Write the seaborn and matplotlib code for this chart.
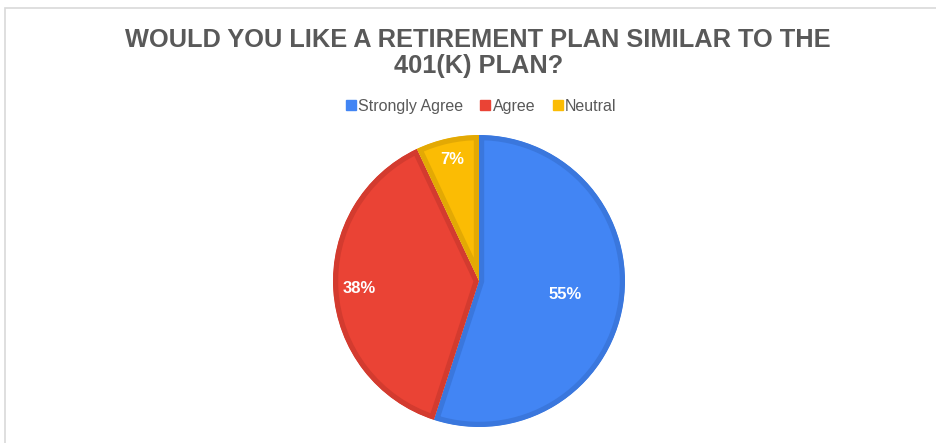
import numpy as np
import seaborn as sns
import matplotlib
matplotlib.use('Agg')
import matplotlib.pyplot as plt
from matplotlib.patches import Rectangle
from matplotlib.lines import Line2D

sns.set_theme(style='white')
plt.rcParams['font.family'] = ['Liberation Sans', 'DejaVu Sans']

categories = ['Strongly Agree', 'Agree', 'Neutral']
shares = [55, 38, 7]
label_dist = [0.6, 0.82, 0.85]

colors = ['#4285F4', '#EA4335', '#FBBC04']
edges = ['#3A77DD', '#D33B2F', '#E3A904']

fig = plt.figure(figsize=(9.36, 4.43), dpi=100)
fig.patches.append(Rectangle((5 / 936, -0.01), 1.0, 1 - 8 / 443 + 0.01,
                             transform=fig.transFigure, fill=False,
                             edgecolor='#d9d9d9', linewidth=1.2))

ax = fig.add_axes([333 / 936, 16 / 443, 292 / 936, 292 / 443])
wedges, texts, autotexts = ax.pie(shares, colors=colors, startangle=90, counterclock=False,
                                  autopct='%1.0f%%', pctdistance=0.6,
                                  textprops=dict(color='white', fontsize=12, fontweight='bold'))

# darker inner border on each slice
for w, ec in zip(wedges, edges):
    w.set_edgecolor(ec)
    w.set_linewidth(7.5)
    w.set_clip_on(True)
    w.set_clip_path(w)

for w, t, d in zip(wedges, autotexts, label_dist):
    ang = np.deg2rad((w.theta1 + w.theta2) / 2)
    t.set_position((d * np.cos(ang), d * np.sin(ang)))

ax.set_xlim(-1, 1)
ax.set_ylim(-1, 1)
ax.set_aspect('equal')
ax.axis('off')

fig.text(0.511, 0.88, 'WOULD YOU LIKE A RETIREMENT PLAN SIMILAR TO THE\n401(K) PLAN?',
         ha='center', va='center', fontsize=18.3, fontweight='bold', color='#595959',
         linespacing=1.12)

handles = [Line2D([], [], marker='s', linestyle='', markersize=6.5, color=c) for c in colors]
fig.legend(handles, categories, loc='center', bbox_to_anchor=(0.514, 0.76), ncol=3,
           frameon=False, fontsize=11.5, labelcolor='#595959', handlelength=0.6,
           handletextpad=0.15, columnspacing=1.1)

fig.savefig('out.png', dpi=100)
